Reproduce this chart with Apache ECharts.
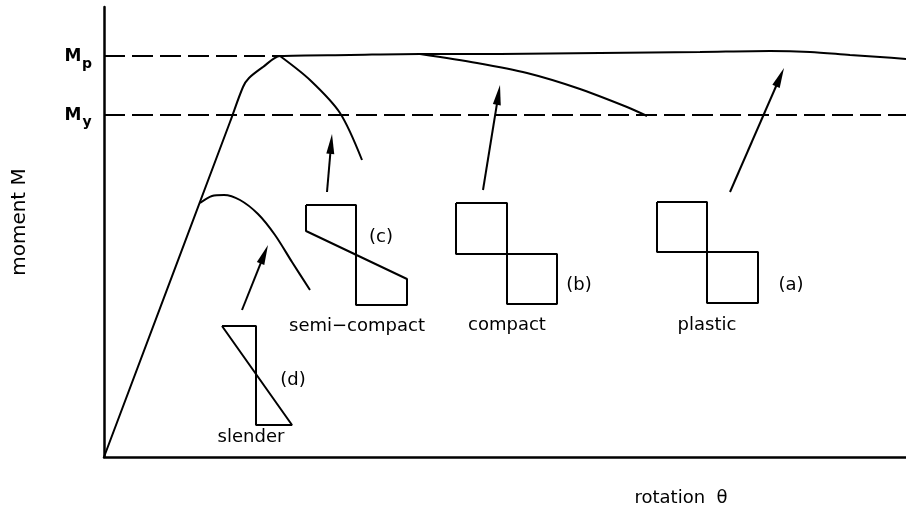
<!DOCTYPE html>
<html><head><meta charset="utf-8">
<script src="https://cdn.jsdelivr.net/npm/echarts@6.0.0/dist/echarts.min.js"></script>
<style>html,body{margin:0;padding:0;background:#fff}#c{width:906px;height:518px}</style>
</head><body><div id="c"></div>
<script>
// Schematic values (rotation units, moment units); origin at axes crossing
const MP = 401;            // plastic moment level
const MY = 342;            // yield moment level
const PEAK_X = 176;        // rotation where the curves first reach Mp
// elastic branch + rounding + plastic plateau (a)
const plastic = [[0,0],[126,335],[139,370],[145,379],[159,390],[176,401],[246,402],[316,403],[396,403],[496,404],[596,405],[666,406],[706,405],[746,402],[776,400],[802,398]];
const compact = [[316,403],[373,394],[423,384],[473,369],[523,350],[543,341]];
const semiCompact = [[176,401],[206,377],[236,344],[258,297]];
const slender = [[96,254],[108,261],[120,262],[136,257],[154,243],[171,222],[188,195],[206,167]];
// arrows: [x1, y1, x2, y2]
const arrows = [[138,147,164,212],[223,265,228,323],[379,267,396,372],[626,265,680,389]];
// stress blocks
const blockC = [[202,252],[252,252],[252,152],[303,152],[303,178],[202,226],[202,252]];
const blockD = [[118,131],[152,131],[152,32],[188,32],[118,131]];
const blockB = [[352,254],[403,254],[403,203],[453,203],[453,153],[403,153],[403,203],[352,203],[352,254]];
const blockA = [[553,255],[603,255],[603,205],[654,205],[654,154],[603,154],[603,205],[553,205],[553,255]];
// text annotations [x, y]
const labelPos = [[277,220],[253,131],[189,77],[147,20],[475,172],[403,132],[687,172],[603,132]];
const labelText = ['(c)','semi\u2212compact','(d)','slender','(b)','compact','(a)','plastic'];
// moment level labels: M and its subscript
const levelPos = [[-31,MP-1],[-31,MY-1]];
const levelSub = ['p','y'];
const levelSubPos = [[-17,MP-8],[-17,MY-7]];

const FONT = '"DejaVu Sans"';
const ls = {color:'#000', width:2};
function curve(d, smooth){ return {type:'line', data:d, symbol:'none', smooth:smooth, lineStyle:ls, silent:true}; }
function poly(d){ return {type:'line', data:d, symbol:'none', smooth:false, lineStyle:{color:'#000', width:2}, silent:true}; }
function textSeries(pos, texts, font){
  return {type:'custom', coordinateSystem:'cartesian2d', data:pos, silent:true, clip:false,
    renderItem:function(params, api){
      const p = api.coord([api.value(0), api.value(1)]);
      return {type:'text', x:p[0], y:p[1], style:{text:texts[params.dataIndex], font:font, fill:'#000', align:'center', verticalAlign:'middle'}};
    }};
}

const chart = echarts.init(document.getElementById('c'), null, {renderer:'canvas'});
chart.setOption({
  animation:false,
  backgroundColor:'#fff',
  grid:{left:104, top:7, width:802, height:450},
  xAxis:{type:'value', min:0, max:802, axisLine:{lineStyle:{color:'#000', width:2.5}}, axisTick:{show:false}, axisLabel:{show:false}, splitLine:{show:false}},
  yAxis:{type:'value', min:0, max:450, axisLine:{show:true, lineStyle:{color:'#000', width:2.5}}, axisTick:{show:false}, axisLabel:{show:false}, splitLine:{show:false}},
  graphic:[
    {type:'text', x:20, y:222, rotation:Math.PI/2, style:{text:'moment M', font:'20px ' + FONT, fill:'#000', align:'center', verticalAlign:'middle'}},
    {type:'text', x:681, y:498, style:{text:'rotation  \u03b8', font:'18px ' + FONT, fill:'#000', align:'center', verticalAlign:'middle'}}
  ],
  series:[
    Object.assign(curve(plastic,0.3), {
      markLine:{silent:true, symbol:'none', label:{show:false},
        lineStyle:{color:'#000', width:2, type:[21,7]},
        data:[[{coord:[0,MP]},{coord:[PEAK_X,MP]}],{yAxis:MY}]}
    }),
    curve(compact,0.3),
    curve(semiCompact,0.3),
    curve(slender,0.3),
    poly(blockA), poly(blockB), poly(blockC), poly(blockD),
    {type:'custom', coordinateSystem:'cartesian2d', data:arrows, silent:true,
      renderItem:function(params, api){
        const p1 = api.coord([api.value(0), api.value(1)]);
        const p2 = api.coord([api.value(2), api.value(3)]);
        const dx=p2[0]-p1[0], dy=p2[1]-p1[1], L=Math.hypot(dx,dy), ux=dx/L, uy=dy/L;
        const hl=20, hw=4;
        const bx=p2[0]-ux*hl, by=p2[1]-uy*hl, nx=-uy, ny=ux;
        return {type:'group', children:[
          {type:'line', shape:{x1:p1[0],y1:p1[1],x2:bx+ux*2,y2:by+uy*2}, style:{stroke:'#000', lineWidth:2}},
          {type:'polygon', shape:{points:[[p2[0],p2[1]],[bx+nx*hw,by+ny*hw],[bx-nx*hw,by-ny*hw]]}, style:{fill:'#000'}}
        ]};
      }
    },
    textSeries(labelPos, labelText, '18px ' + FONT),
    textSeries(levelPos, ['M','M'], 'bold 17px ' + FONT),
    textSeries(levelSubPos, levelSub, 'bold 14px ' + FONT)
  ]
});
</script>
</body></html>
